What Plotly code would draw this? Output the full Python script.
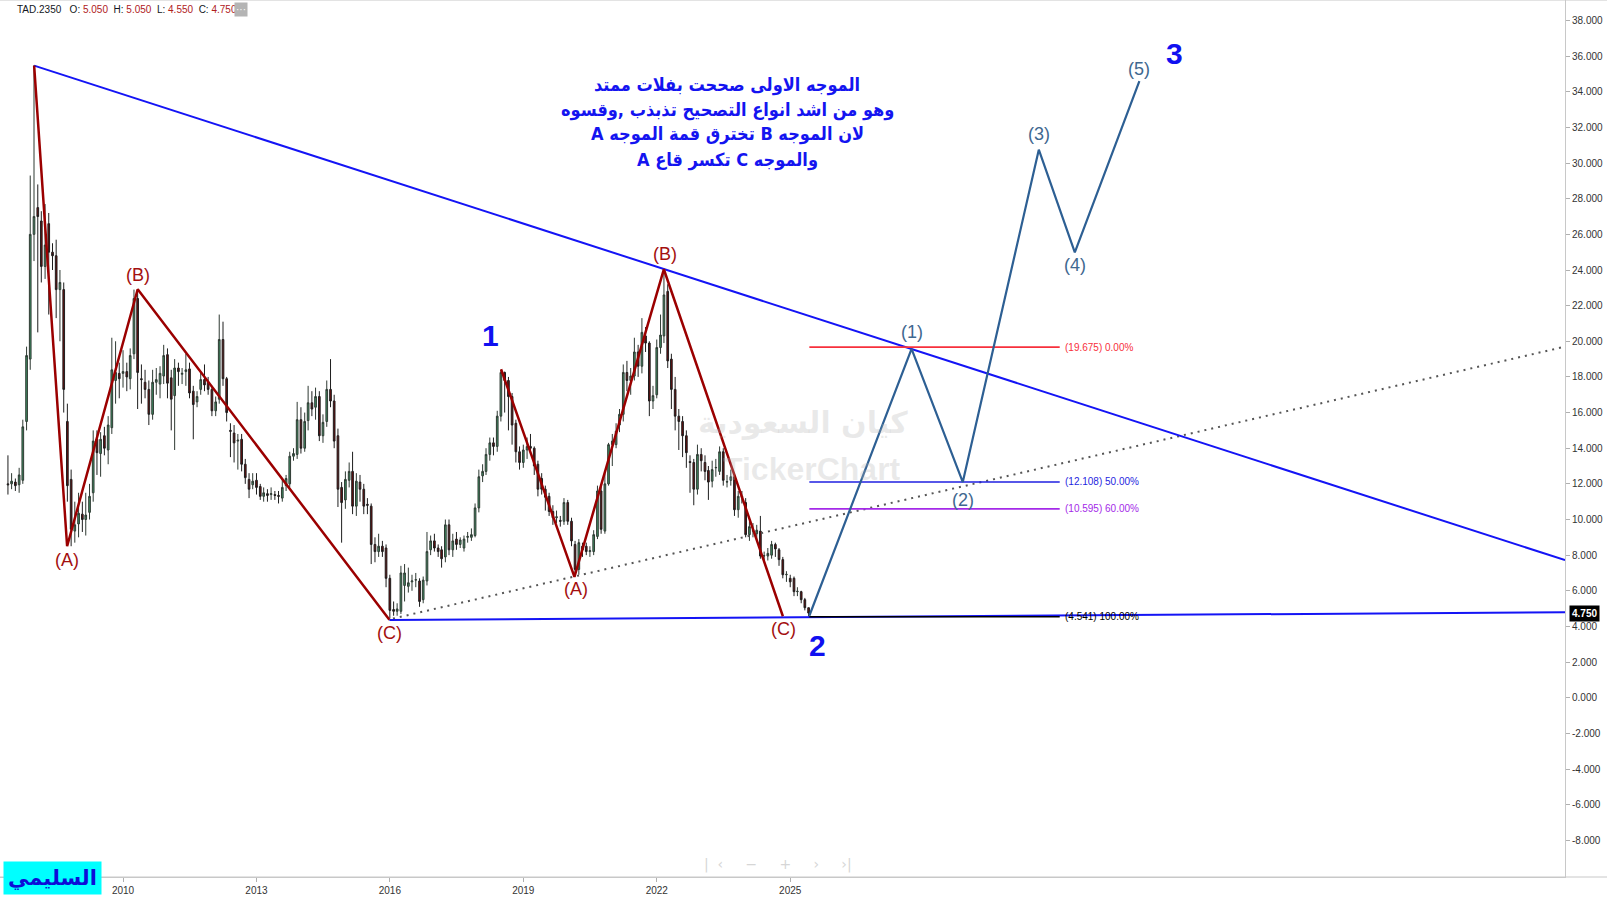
import plotly.graph_objects as go
import pandas as pd
from datetime import datetime

# ---------------- data (monthly candles, TAD.2350) ----------------
start_month = "2007-06-01"
opens = [
    12.0, 12.0, 12.1, 11.95, 12.2, 15.5, 19.0,
    26.0, 27.5, 26.75, 24.2, 26.6, 25.0, 24.8, 22.9, 22.9, 15.5, 12.25, 9.35,
    9.75, 10.3, 10.0, 10.4, 11.5, 14.5, 13.7, 14.7, 13.9, 15.15, 17.8, 18.2,
    18.2, 18.3, 17.9, 19.3, 22.4, 17.9, 17.7, 17.3, 15.9, 17.7, 17.6, 18.05,
    19.25, 17.95, 16.95, 18.5, 18.15, 18.3, 18.45, 17.2, 16.6, 17.3, 17.85, 17.7,
    17.3, 16.1, 16.75, 20.1, 17.9, 15.0, 14.85, 14.4, 14.5, 13.1, 12.25, 11.95,
    12.2, 11.85, 11.3, 11.45, 11.4, 11.4, 11.35, 11.2, 11.9, 12.0, 13.55, 13.65,
    15.6, 14.0, 15.55, 16.55, 16.3, 16.9, 14.7, 15.5, 17.3, 16.65, 14.7, 11.8,
    11.1, 12.2, 12.7, 10.75, 12.1, 11.7, 10.85, 10.75, 8.6, 8.2, 8.5, 8.4,
    6.7, 4.95, 4.85, 4.85, 6.3, 6.25, 6.5, 6.6, 6.55, 5.5, 6.55, 8.3,
    8.8, 8.4, 8.3, 7.9, 9.7, 8.3, 8.9, 8.6, 8.4, 9.0, 9.0, 9.1,
    10.65, 12.45, 12.7, 13.65, 14.3, 14.1, 15.8, 18.25, 17.8, 16.9, 15.4, 13.8,
    13.2, 13.9, 14.1, 14.0, 13.1, 12.3, 11.7, 11.3, 10.45, 10.1, 9.95, 9.9,
    10.95, 9.9, 8.6, 7.2, 8.5, 8.5, 8.2, 8.2, 9.05, 11.6, 9.35, 12.0,
    14.2, 14.2, 15.3, 15.9, 18.25, 17.8, 18.05, 19.4, 18.6, 20.3, 19.9, 16.65,
    17.0, 19.65, 20.3, 22.8, 19.0, 17.3, 15.8, 15.5, 14.7, 13.25, 13.2, 11.7,
    13.65, 13.2, 12.75, 12.15, 12.9, 12.7, 13.8, 12.1, 12.2, 12.4, 10.55, 11.3,
    10.95, 9.15, 9.35, 9.2, 9.35, 7.95, 7.95, 8.0, 8.6, 8.3, 7.75, 6.9,
    6.7, 6.7, 5.95, 5.95, 5.5, 5.05,
]
highs = [
    13.6, 12.6, 12.3, 12.9, 15.6, 19.7, 29.3,
    35.5, 28.8, 27.3, 27.7, 27.2, 25.5, 25.7, 24.0, 23.3, 16.5, 12.8, 11.0,
    11.5, 11.0, 11.5, 12.0, 15.0, 15.0, 14.9, 15.2, 15.8, 20.2, 20.0, 18.8,
    19.5, 18.8, 19.6, 22.9, 22.9, 18.7, 18.4, 17.8, 18.4, 18.5, 18.6, 19.8,
    19.6, 18.4, 19.0, 18.8, 18.5, 19.3, 18.8, 17.5, 17.2, 18.3, 18.7, 18.0,
    17.5, 16.9, 21.5, 21.1, 18.0, 15.4, 15.3, 14.8, 14.8, 13.4, 12.6, 12.6,
    12.6, 12.0, 11.8, 11.7, 11.8, 11.6, 11.6, 12.3, 12.5, 13.8, 14.0, 16.6,
    16.3, 16.0, 17.5, 17.2, 17.4, 17.2, 15.9, 17.8, 19.0, 17.0, 15.1, 12.1,
    12.7, 13.2, 13.8, 12.6, 12.5, 12.0, 11.2, 10.9, 9.0, 9.2, 8.8, 8.6,
    6.9, 5.4, 5.3, 7.4, 7.5, 7.3, 6.9, 7.0, 6.7, 6.8, 9.3, 9.1,
    9.2, 8.6, 8.5, 10.0, 10.0, 9.2, 9.3, 9.0, 9.1, 9.3, 9.5, 10.9,
    12.8, 13.1, 14.0, 14.6, 14.6, 16.1, 18.4, 18.3, 18.0, 17.1, 15.6, 14.1,
    14.2, 14.6, 14.8, 14.1, 13.3, 12.6, 11.9, 11.5, 10.8, 10.5, 10.2, 11.2,
    11.1, 10.1, 8.8, 8.9, 8.7, 8.7, 8.5, 9.4, 11.9, 11.9, 12.6, 14.3,
    14.8, 15.4, 16.2, 18.7, 18.9, 18.5, 20.2, 19.8, 21.3, 20.8, 20.0, 17.5,
    20.1, 21.5, 24.0, 23.2, 19.3, 18.0, 16.2, 15.8, 15.0, 13.6, 13.4, 14.2,
    14.0, 13.6, 13.0, 13.3, 13.4, 14.1, 14.0, 12.5, 12.8, 12.6, 11.6, 11.6,
    11.2, 9.9, 9.8, 9.7, 10.2, 8.2, 8.4, 8.8, 8.7, 8.4, 7.9, 7.1,
    6.9, 6.8, 6.2, 6.0, 5.6, 5.05,
]
lows = [
    11.4, 11.7, 11.6, 11.5, 12.0, 15.0, 18.4,
    24.5, 20.5, 23.3, 23.5, 21.5, 24.0, 21.3, 20.0, 16.0, 11.0, 8.5, 8.7,
    9.0, 9.3, 9.1, 10.0, 11.0, 12.5, 12.4, 13.6, 13.1, 14.8, 16.5, 16.8,
    17.4, 17.2, 17.3, 19.0, 16.2, 16.5, 16.8, 15.3, 15.6, 17.0, 16.8, 17.6,
    16.8, 15.0, 13.9, 17.5, 17.6, 17.5, 16.8, 14.5, 16.3, 17.0, 17.2, 17.0,
    15.8, 15.8, 16.5, 17.5, 15.5, 13.5, 13.2, 12.8, 12.7, 12.0, 11.2, 11.7,
    11.4, 11.1, 11.0, 11.0, 11.1, 11.1, 10.9, 11.0, 11.6, 11.8, 13.3, 13.4,
    13.7, 13.8, 15.0, 15.8, 15.6, 14.4, 14.3, 15.2, 16.3, 14.0, 10.7, 8.7,
    10.6, 11.8, 10.3, 10.2, 11.0, 10.3, 10.3, 7.5, 7.6, 7.9, 7.9, 6.2,
    4.45, 4.6, 4.6, 4.7, 5.4, 5.9, 6.0, 6.2, 5.1, 5.3, 6.3, 8.0,
    8.2, 7.9, 7.3, 7.6, 8.0, 7.9, 8.3, 8.4, 8.2, 8.7, 8.8, 9.0,
    10.4, 12.1, 12.5, 13.3, 13.6, 13.8, 15.5, 16.0, 15.0, 14.2, 13.2, 12.8,
    12.9, 13.4, 13.8, 12.5, 11.3, 11.4, 10.5, 10.2, 9.7, 9.8, 9.6, 9.7,
    9.7, 8.5, 6.8, 6.9, 7.9, 8.0, 7.9, 8.0, 8.9, 9.2, 9.2, 11.9,
    13.0, 14.0, 14.9, 15.5, 17.2, 17.0, 17.8, 18.0, 18.2, 19.4, 15.8, 16.2,
    16.8, 19.3, 19.9, 18.5, 16.2, 15.0, 13.9, 13.5, 12.9, 11.5, 10.8, 11.4,
    12.7, 12.2, 11.1, 11.8, 12.4, 12.5, 11.9, 11.8, 11.9, 10.2, 10.1, 10.9,
    9.0, 8.8, 9.0, 8.8, 7.8, 7.6, 7.7, 7.8, 7.9, 7.4, 6.7, 6.5,
    6.2, 5.7, 5.7, 5.3, 4.9, 4.55,
]
closes = [
    11.95, 12.15, 11.9, 12.5, 15.2, 19.2, 26.0,
    27.0, 27.0, 24.2, 25.4, 25.0, 24.8, 22.9, 23.3, 17.3, 11.9, 9.45, 9.7,
    10.35, 10.0, 10.25, 11.3, 14.4, 13.75, 14.5, 14.0, 15.3, 18.4, 18.25, 17.9,
    18.3, 18.0, 19.2, 22.4, 18.25, 17.85, 17.3, 15.9, 17.7, 17.85, 18.2, 19.2,
    17.65, 16.75, 18.5, 18.3, 18.2, 18.4, 17.1, 16.45, 16.9, 17.85, 17.55, 17.3,
    16.1, 16.6, 20.1, 17.9, 16.0, 14.95, 14.3, 14.45, 13.1, 12.35, 11.7, 12.15,
    11.8, 11.3, 11.5, 11.35, 11.45, 11.35, 11.3, 11.8, 12.3, 13.55, 13.7, 15.6,
    14.0, 15.5, 16.55, 16.2, 16.9, 14.7, 15.45, 17.3, 16.65, 14.4, 11.7, 10.95,
    12.25, 12.7, 10.75, 12.15, 11.7, 10.75, 10.8, 8.6, 8.2, 8.5, 8.2, 6.7,
    4.9, 4.85, 4.98, 7.0, 7.0, 6.45, 6.55, 6.62, 5.4, 6.6, 8.2, 8.8,
    8.4, 8.2, 7.8, 9.7, 8.3, 8.8, 8.6, 8.85, 8.9, 9.05, 9.15, 10.65,
    12.4, 12.7, 13.65, 14.3, 14.1, 15.8, 18.25, 17.8, 16.9, 15.3, 13.8, 13.2,
    13.9, 14.1, 14.0, 13.0, 11.7, 11.7, 11.25, 10.45, 10.1, 10.15, 9.9, 10.95,
    9.9, 8.8, 7.2, 8.7, 8.3, 8.2, 8.25, 9.15, 11.6, 9.45, 12.0, 14.2,
    14.4, 14.95, 15.9, 18.25, 17.8, 18.05, 19.4, 18.6, 20.5, 19.9, 16.65, 16.95,
    19.65, 20.35, 22.6, 18.9, 17.3, 15.8, 15.5, 14.7, 13.75, 13.2, 11.7, 13.65,
    13.3, 12.7, 12.1, 12.8, 12.92, 13.8, 12.2, 12.12, 12.4, 10.55, 11.3, 11.25,
    9.15, 9.6, 9.37, 9.4, 7.95, 7.97, 8.1, 8.6, 8.35, 7.75, 6.9, 6.92,
    6.5, 5.95, 5.97, 5.5, 5.05, 4.75,
]

# Elliott-wave pivots (decimal year, price)
abc1_t = [2008.003, 2008.743, 2010.33, 2015.99]
abc1_v = [35.47, 8.50, 22.92, 4.38]
abc2_t = [2018.50, 2020.15, 2022.159, 2024.835]
abc2_v = [18.43, 6.78, 24.04, 4.57]
proj_t = [2025.43, 2027.73, 2028.88, 2030.59, 2031.40, 2032.85]
proj_v = [4.60, 19.58, 12.10, 30.75, 24.99, 34.60]

# trend lines
down_t = [2008.003, 2042.42]
down_v = [35.47, 7.72]
base_t = [2015.99, 2042.42]
base_v = [4.36, 4.80]
dot_t = [2016.07, 2042.42]
dot_v = [4.44, 19.70]

# fibonacci levels
fib_levels = [19.675, 12.108, 10.595, 4.541]
fib_pcts = ["0.00%", "50.00%", "60.00%", "100.00%"]
fib_colors = ["#f7303c", "#1f1fe0", "#a42ae8", "#000000"]
fib_t = [2025.43, 2031.06]

# wave labels
abc_labels = ["(A)", "(B)", "(C)", "(A)", "(B)", "(C)"]
abc_label_t = [2008.75, 2010.34, 2016.0, 2020.18, 2022.18, 2024.86]
abc_label_v = [7.70, 23.74, 3.62, 6.10, 24.90, 3.85]
proj_labels = ["(1)", "(2)", "(3)", "(4)", "(5)"]
proj_label_t = [2027.73, 2028.88, 2030.59, 2031.40, 2032.85]
proj_label_v = [20.53, 11.12, 31.63, 24.28, 35.27]
deg_labels = ["1", "2", "3"]
deg_label_t = [2018.27, 2025.62, 2033.63]
deg_label_v = [20.30, 2.95, 36.15]

y_ticks = [-8, -6, -4, -2, 0, 2, 4, 6, 8, 10, 12, 14, 16, 18, 20, 22, 24,
           26, 28, 30, 32, 34, 36, 38]
x_tick_years = [2010, 2013, 2016, 2019, 2022, 2025]

note_lines = [
    "الموجه الاولى صححت بفلات ممتد",
    "وهو من اشد انواع التصحيح تذبذب ,وقسوه",
    "لان الموجه B تخترق قمة الموجه A",
    "والموجه C تكسر قاع A",
]
note_line_y = [85, 110, 134, 160]  # pixel rows of the note lines


def yr(t):
    y = int(t)
    s = datetime(y, 1, 1)
    e = datetime(y + 1, 1, 1)
    return s + (e - s) * (t - y)


W, H = 1565, 877  # plot area in pixels


def px(x):
    return x / W


def py(y):
    return 1 - y / H


dates = pd.date_range(start_month, periods=len(closes), freq="MS")

fig = go.Figure()

fig.add_trace(go.Candlestick(
    x=dates, open=opens, high=highs, low=lows, close=closes,
    increasing=dict(line=dict(color="#2f3a33", width=1), fillcolor="#3f8f63"),
    decreasing=dict(line=dict(color="#1e1e1e", width=1), fillcolor="#6b0d0d"),
    whiskerwidth=0, showlegend=False, hoverinfo="skip",
))

# trend lines
fig.add_trace(go.Scatter(x=[yr(t) for t in dot_t], y=dot_v, mode="lines",
                         line=dict(color="#555555", width=2, dash="2px,5px"),
                         showlegend=False, hoverinfo="skip"))
fig.add_trace(go.Scatter(x=[yr(t) for t in down_t], y=down_v, mode="lines",
                         line=dict(color="#1414f5", width=2),
                         showlegend=False, hoverinfo="skip"))
fig.add_trace(go.Scatter(x=[yr(t) for t in base_t], y=base_v, mode="lines",
                         line=dict(color="#1414f5", width=2),
                         showlegend=False, hoverinfo="skip"))

# fib levels
for lv, pc, col in zip(fib_levels, fib_pcts, fib_colors):
    fig.add_trace(go.Scatter(x=[yr(t) for t in fib_t], y=[lv, lv], mode="lines",
                             line=dict(color=col, width=1.6),
                             showlegend=False, hoverinfo="skip"))
    fig.add_annotation(x=yr(fib_t[1]), y=lv, text=f"({lv:.3f}) {pc}",
                       xanchor="left", yanchor="middle", xshift=3,
                       showarrow=False, font=dict(size=10, color=col,
                                                  family="Liberation Sans"))

# ABC waves
fig.add_trace(go.Scatter(x=[yr(t) for t in abc1_t], y=abc1_v, mode="lines",
                         line=dict(color="#9b0000", width=2.5),
                         showlegend=False, hoverinfo="skip"))
fig.add_trace(go.Scatter(x=[yr(t) for t in abc2_t], y=abc2_v, mode="lines",
                         line=dict(color="#9b0000", width=2.5),
                         showlegend=False, hoverinfo="skip"))
# projection
fig.add_trace(go.Scatter(x=[yr(t) for t in proj_t], y=proj_v, mode="lines",
                         line=dict(color="#2d5f93", width=2.2),
                         showlegend=False, hoverinfo="skip"))

for txt, t, v in zip(abc_labels, abc_label_t, abc_label_v):
    fig.add_annotation(x=yr(t), y=v, text=txt, showarrow=False,
                       font=dict(size=18, color="#a30f0f", family="Liberation Sans"))
for txt, t, v in zip(proj_labels, proj_label_t, proj_label_v):
    fig.add_annotation(x=yr(t), y=v, text=txt, showarrow=False,
                       font=dict(size=18, color="#3f6890", family="Liberation Sans"))
for txt, t, v in zip(deg_labels, deg_label_t, deg_label_v):
    fig.add_annotation(x=yr(t), y=v, text=f"<b>{txt}</b>", showarrow=False,
                       font=dict(size=30, color="#1010f0", family="Liberation Sans"))

# Arabic note (one annotation per line, RTL embedding)
for ln, yy in zip(note_lines, note_line_y):
    fig.add_annotation(xref="paper", yref="paper", x=px(727), y=py(yy),
                       xanchor="center", yanchor="middle",
                       text="<b>\u202b" + ln + "\u202c</b>", showarrow=False,
                       font=dict(size=18, color="#1414f0",
                                 family="DejaVu Sans Condensed, DejaVu Sans"))

# watermark
fig.add_annotation(xref="paper", yref="paper", x=px(803), y=py(422),
                   xanchor="center", yanchor="middle",
                   text="<b>كيان السعودية</b>", showarrow=False,
                   font=dict(size=30, color="rgba(180,180,180,0.28)", family="DejaVu Sans"))
fig.add_annotation(xref="paper", yref="paper", x=px(812), y=py(469),
                   xanchor="center", yanchor="middle",
                   text="<b>TickerChart</b>", showarrow=False,
                   font=dict(size=32, color="rgba(180,180,180,0.28)", family="Liberation Sans"))

# header
red = "#b0201c"
hdr = (f"TAD.2350   O: <span style='color:{red}'>5.050</span>  "
       f"H: <span style='color:{red}'>5.050</span>  "
       f"L: <span style='color:{red}'>4.550</span>  "
       f"C: <span style='color:{red}'>4.750</span>")
fig.add_annotation(xref="paper", yref="paper", x=px(15), y=py(10), text=hdr,
                   xanchor="left", yanchor="middle", showarrow=False,
                   font=dict(size=10, color="#131722", family="Liberation Sans"))
fig.add_annotation(xref="paper", yref="paper", x=px(241), y=py(9), text="···",
                   xanchor="center", yanchor="middle", showarrow=False,
                   bgcolor="#b4b4b4", borderpad=1,
                   font=dict(size=10, color="#ffffff", family="Liberation Sans"))

# price tag
fig.add_annotation(xref="paper", yref="y", x=px(1569), y=closes[-1],
                   text="<b>4.750</b>", xanchor="left", yanchor="middle",
                   showarrow=False, bgcolor="#000000", borderpad=2,
                   font=dict(size=10, color="#ffffff", family="Liberation Sans"))

# signature
fig.add_annotation(xref="paper", yref="paper", x=px(52), y=py(878),
                   text="<b>السليمي</b>", xanchor="center", yanchor="middle",
                   showarrow=False, bgcolor="#00ffff", borderpad=4,
                   font=dict(size=21, color="#0d0dd8", family="DejaVu Sans"))

# nav buttons (faint)
fig.add_annotation(xref="paper", yref="paper", x=px(778), y=py(864),
                   xanchor="center", yanchor="middle",
                   text="|  ‹     −     +     ›     ›|", showarrow=False,
                   font=dict(size=14, color="#d6d6d6", family="DejaVu Sans"))

# borders
fig.add_shape(type="line", xref="paper", yref="paper", x0=0, x1=1607 / W,
              y0=1, y1=1, line=dict(color="#c8c8c8", width=1))
fig.add_shape(type="line", xref="paper", yref="paper", x0=0, x1=1607 / W,
              y0=0, y1=0, line=dict(color="#c8c8c8", width=1))

fig.update_layout(
    width=1607, height=899,
    margin=dict(l=0, r=42, t=0, b=22),
    paper_bgcolor="#ffffff", plot_bgcolor="#ffffff",
    font=dict(family="Liberation Sans", size=10, color="#131722"),
    showlegend=False,
    xaxis=dict(
        type="date", range=[yr(2007.235), yr(2042.42)],
        rangeslider=dict(visible=False),
        showgrid=False, zeroline=False,
        showline=True, linecolor="#c8c8c8", linewidth=1,
        ticks="outside", ticklen=4, tickcolor="#b0b0b0",
        tickvals=[f"{y}-01-01" for y in x_tick_years],
        ticktext=[str(y) for y in x_tick_years],
        tickfont=dict(size=10, color="#333333"),
    ),
    yaxis=dict(
        side="right", range=[-10.06, 39.15],
        showgrid=False, zeroline=False,
        showline=True, linecolor="#c8c8c8", linewidth=1,
        ticks="outside", ticklen=4, tickcolor="#b0b0b0",
        tickvals=y_ticks, ticktext=[f"{v:.3f}" for v in y_ticks],
        tickfont=dict(size=10, color="#333333"),
    ),
)

fig.write_html(
    "out.html",
    config={"displayModeBar": False},
    post_script="document.body.style.margin='0';document.body.style.overflow='hidden';",
)
